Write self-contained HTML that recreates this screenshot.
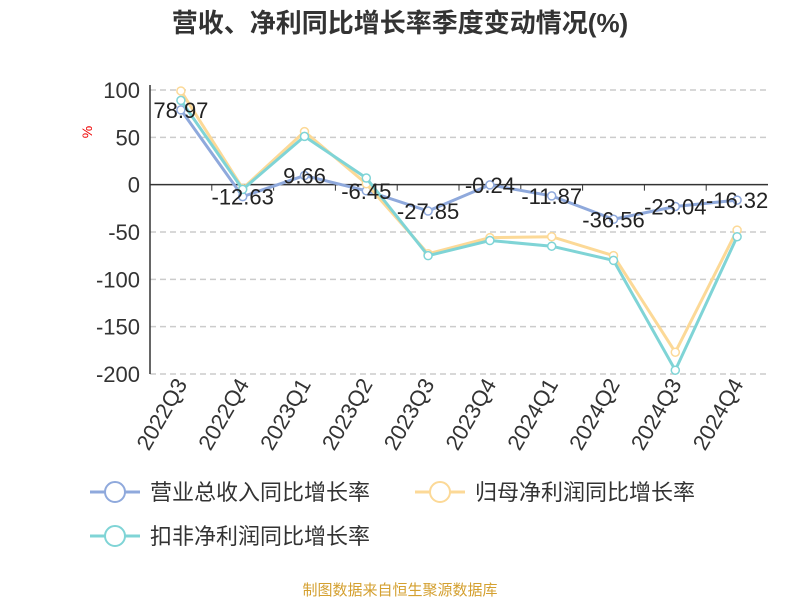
<!DOCTYPE html>
<html><head><meta charset="utf-8"><style>
body{margin:0;background:#fff;}
svg{font-family:"Liberation Sans","Noto Sans CJK SC",sans-serif;}
</style></head><body>
<svg id="c" width="800" height="600">
<text x="400" y="32" text-anchor="middle" font-size="26" font-weight="bold" fill="#333">营收、净利同比增长率季度变动情况(%)</text>
<text transform="translate(92,132) rotate(-90)" text-anchor="middle" font-size="14" fill="#e00">%</text>
<g id="grid"></g><g id="axes"></g><g id="series"></g><g id="labels"></g>
<g>
<g><line x1="90" y1="492" x2="140" y2="492" stroke="#8fa9dc" stroke-width="3"/><circle cx="115" cy="492" r="10" fill="#fff" stroke="#8fa9dc" stroke-width="2"/><text x="150" y="500" font-size="22" fill="#333">营业总收入同比增长率</text></g>
<g><line x1="415" y1="492" x2="465" y2="492" stroke="#fcd997" stroke-width="3"/><circle cx="440" cy="492" r="10" fill="#fff" stroke="#fcd997" stroke-width="2"/><text x="475" y="500" font-size="22" fill="#333">归母净利润同比增长率</text></g>
<g><line x1="90" y1="536" x2="140" y2="536" stroke="#7fd4d6" stroke-width="3"/><circle cx="115" cy="536" r="10" fill="#fff" stroke="#7fd4d6" stroke-width="2"/><text x="150" y="544" font-size="22" fill="#333">扣非净利润同比增长率</text></g>
</g>
<text x="400" y="595" text-anchor="middle" font-size="15" fill="#d4a030">制图数据来自恒生聚源数据库</text>
</svg>
<script>
const categories=["2022Q3","2022Q4","2023Q1","2023Q2","2023Q3","2023Q4","2024Q1","2024Q2","2024Q3","2024Q4"];
const revenue=[78.97,-12.63,9.66,-6.45,-27.85,-0.24,-11.87,-36.56,-23.04,-16.32];
const netProfit=[99,-4,56,1,-73,-56,-55,-75,-177,-48];
const deductedProfit=[89,-5,51,7,-75,-59,-65,-80,-196,-55];
const yTicks=[100,50,0,-50,-100,-150,-200];
const NS="http://www.w3.org/2000/svg";
const L=150,R=768,T=90,B=374,band=(R-L)/categories.length;
const x=i=>L+band*(i+0.5);
const y=v=>T+(100-v)/300*(B-T);
function mk(tag,attrs,parent,txt){const e=document.createElementNS(NS,tag);for(const k in attrs)e.setAttribute(k,attrs[k]);if(txt!==undefined)e.textContent=txt;parent.appendChild(e);return e;}
const grid=document.getElementById('grid'),axes=document.getElementById('axes'),ser=document.getElementById('series'),lab=document.getElementById('labels');
yTicks.forEach(t=>{
 if(t!==0){const g=mk('line',{x1:L,x2:R,y1:y(t),y2:y(t),stroke:'#ccc','stroke-dasharray':'6,4','stroke-width':1.5},grid);
 }
 const tl=mk('text',{x:L-10,y:y(t)+8,'text-anchor':'end','font-size':22,fill:'#333'},axes,t);
 
});
const ya=mk('line',{x1:L,x2:L,y1:T-5,y2:B,stroke:'#333','stroke-width':1.5},axes);

const xa=mk('line',{x1:L,x2:R,y1:y(0),y2:y(0),stroke:'#333','stroke-width':1.5},axes);

categories.forEach((c,i)=>{
 const tk=mk('line',{x1:L+band*i,x2:L+band*i,y1:y(0),y2:y(0)+6,stroke:'#333'},axes);
 
 const t=mk('text',{transform:`translate(${x(i)+7},${B+10}) rotate(-60)`,'text-anchor':'end','font-size':22,fill:'#333'},axes,c);
 
});
function series(data,color,name){
 const p=mk('polyline',{points:data.map((v,i)=>x(i)+','+y(v)).join(' '),fill:'none',stroke:color,'stroke-width':3},ser);
 
 data.forEach((v,i)=>{const c=mk('circle',{cx:x(i),cy:y(v),r:4,fill:'#fff',stroke:color,'stroke-width':1.5},ser);
 });
}
series(revenue,'#8fa9dc','revenue');
series(netProfit,'#fcd997','net-profit');
series(deductedProfit,'#7fd4d6','deducted-profit');
revenue.forEach((v,i)=>{
 const t=mk('text',{x:x(i),y:y(v)+8,'text-anchor':'middle','font-size':22,fill:'#222'},lab,v.toFixed(2));
 
});
</script>
</body></html>
